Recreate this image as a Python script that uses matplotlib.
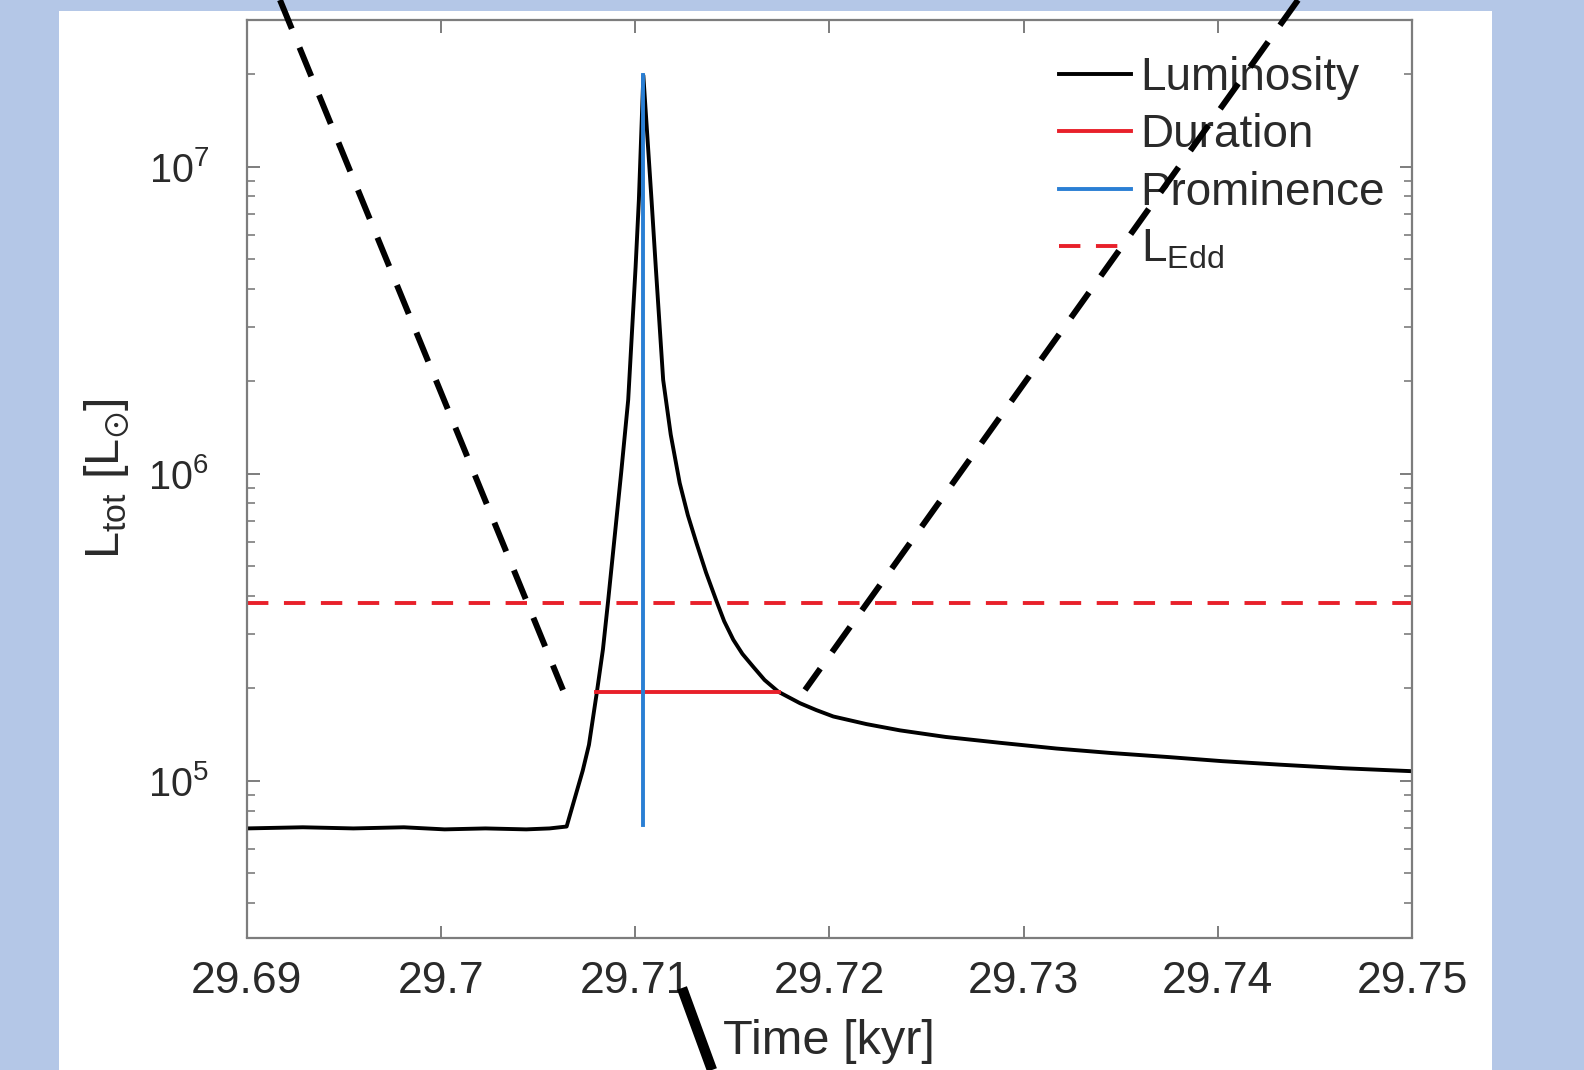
import numpy as np
import matplotlib
matplotlib.use("Agg")
import matplotlib.pyplot as plt
from matplotlib.lines import Line2D
from matplotlib.patches import Rectangle
from matplotlib.ticker import LogLocator, NullFormatter

plt.rcParams['font.family'] = ['Liberation Sans', 'DejaVu Sans']
plt.rcParams['mathtext.fontset'] = 'custom'
plt.rcParams['mathtext.rm'] = 'Liberation Sans'
plt.rcParams['mathtext.it'] = 'Liberation Sans'
plt.rcParams['mathtext.default'] = 'regular'

# luminosity curve (time in kyr, L in Lsun)
time = [29.6900, 29.6929, 29.6955, 29.6981, 29.7002, 29.7023, 29.7044, 29.7056,
        29.70648, 29.70731, 29.70763, 29.70804, 29.70835, 29.70861, 29.70929,
        29.70965, 29.71003, 29.71020, 29.71043, 29.71085, 29.71107, 29.71145,
        29.71184, 29.71230, 29.71272, 29.71317, 29.71366, 29.71420, 29.71459,
        29.71506, 29.71553, 29.71609, 29.71667, 29.71738, 29.71849, 29.71933,
        29.72021, 29.72192, 29.72364, 29.72598, 29.72879, 29.73170, 29.73451,
        29.73747, 29.74023, 29.74319, 29.74647, 29.7500]
lum = [7.00e4, 7.06e4, 7.00e4, 7.06e4, 6.95e4, 7.00e4, 6.95e4, 7.00e4,
       7.10e4, 1.08e5, 1.31e5, 1.95e5, 2.68e5, 3.82e5, 1.01e6,
       1.74e6, 4.7e6, 7.8e6, 1.98e7, 7.8e6, 4.7e6, 2.02e6,
       1.34e6, 9.33e5, 7.33e5, 5.93e5, 4.76e5, 3.84e5, 3.31e5,
       2.88e5, 2.59e5, 2.35e5, 2.13e5, 1.95e5, 1.79e5, 1.70e5,
       1.62e5, 1.53e5, 1.46e5, 1.39e5, 1.33e5, 1.274e5, 1.232e5,
       1.195e5, 1.159e5, 1.129e5, 1.099e5, 1.075e5]

# burst measures
dur_t = [29.7080, 29.7174]
dur_L = 1.95e5
prom_t = 29.71043
prom_L = [7.2e4, 1.98e7]
L_edd = 3.78e5

W, H = 1584, 1070
fig = plt.figure(figsize=(W / 100, H / 100), dpi=100)
fig.patch.set_facecolor('#b4c7e7')
fig.patches.append(Rectangle((58.6 / W, 0), (1492 - 58.6) / W, 1 - 10.5 / H,
                             transform=fig.transFigure, facecolor='white',
                             edgecolor='none', zorder=-5))

ax = fig.add_axes([246.5 / W, 1 - 937.5 / H, (1412 - 246.5) / W, (937.5 - 20) / H])
ax.set_zorder(1)
ax.set_facecolor('white')

ax.plot(time, lum, color='black', lw=2.8, label='Luminosity')
ax.plot(dur_t, [dur_L, dur_L], color='#e8202a', lw=2.8, label='Duration')
ax.plot([prom_t, prom_t], prom_L, color='#2a7fd4', lw=2.8, label='Prominence')
ax.axhline(L_edd, color='#e8202a', lw=2.8, ls=(0, (5.5, 4.0)), label='L$_{Edd}$')

ax.set_yscale('log')
ax.set_xlim(29.69, 29.75)
ax.set_ylim(3.09e4, 3.0e7)
ax.set_xticks([29.69, 29.70, 29.71, 29.72, 29.73, 29.74, 29.75])
ax.set_xticklabels(['29.69', '29.7', '29.71', '29.72', '29.73', '29.74', '29.75'])
ax.yaxis.set_major_locator(LogLocator(base=10, numticks=10))
ax.yaxis.set_minor_locator(LogLocator(base=10, subs=np.arange(2, 10), numticks=20))
ax.yaxis.set_minor_formatter(NullFormatter())

spine_c = '#7d7d7d'
text_c = '#2a2a2a'
for s in ax.spines.values():
    s.set_color(spine_c)
    s.set_linewidth(1.6)
ax.tick_params(which='both', direction='in', top=True, right=True, color=spine_c,
               labelcolor=text_c)
ax.tick_params(axis='x', labelsize=32, pad=17)
ax.tick_params(axis='y', labelsize=28.5, pad=27)
ax.tick_params(which='major', length=9, width=1.4)
ax.tick_params(which='minor', length=5.5, width=1.2)

ax.set_xlabel('Time [kyr]', fontsize=35, color=text_c, labelpad=12)
ax.set_ylabel(r'L$_{tot}$ [L$_{\odot}$]', fontsize=35, color=text_c, labelpad=12)

ax.legend(loc='upper left', bbox_to_anchor=(1059 / W, 1 - 56 / H),
          bbox_transform=fig.transFigure, frameon=False, fontsize=33,
          handlelength=1.58, handletextpad=0.2, labelspacing=0.29,
          borderpad=0, borderaxespad=0, labelcolor=text_c)

# hand-drawn overlay strokes on top of the figure
fig.add_artist(Line2D([280 / W, 563 / W], [1.0, 1 - 690 / H], transform=fig.transFigure,
                      color='black', lw=4.3, ls=(0, (5.2, 3.4)), zorder=10))
fig.add_artist(Line2D([1298 / W, 805 / W], [1.0, 1 - 690 / H], transform=fig.transFigure,
                      color='black', lw=4.3, ls=(0, (5.2, 3.4)), zorder=10))
fig.add_artist(Line2D([682 / W, 712 / W], [1 - 988 / H, 0.0], transform=fig.transFigure,
                      color='black', lw=7.5, solid_capstyle='butt', zorder=10))

fig.savefig('out.png', dpi=100, facecolor=fig.get_facecolor())
